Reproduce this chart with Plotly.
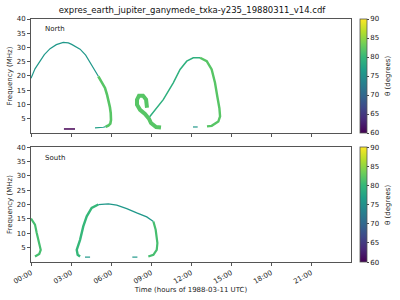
import datetime as dt
import plotly.graph_objects as go
from plotly.colors import sample_colorscale

# ---------------- data (hours of 1988-03-11, frequency MHz, theta deg) -------------
# North hemisphere
n_arc_t = [0.0, 0.3, 0.68, 1.0, 1.43, 1.9, 2.42, 2.8, 3.05, 3.4, 3.68, 4.1, 4.43, 4.75, 5.05]
n_arc_f = [19.2, 22.5, 25.2, 27.5, 29.6, 31.0, 31.8, 31.6, 31.1, 30.3, 29.4, 27.3, 24.7, 22.3, 19.9]
n_arc_theta = 76

n_leg_t = [5.05, 5.35, 5.55, 5.7, 5.8, 5.92, 5.98, 6.0, 5.95, 5.8, 5.6]
n_leg_f = [19.9, 17.5, 15.8, 13.5, 11.7, 9.0, 7.0, 4.6, 3.3, 2.6, 2.2]
n_leg_theta = 82

n_low_t = [5.6, 5.43, 4.8]
n_low_f = [2.2, 2.0, 1.8]
n_low_theta = 77

n_dark_t = [2.47, 3.3]
n_dark_f = [1.4, 1.4]
n_dark_theta = 60

n_loop_t = [8.7, 8.63, 8.4, 8.1, 7.95, 7.95, 8.18, 8.55, 8.85, 9.0, 9.38, 9.75]
n_loop_f = [8.85, 11.7, 13.1, 13.1, 11.7, 9.9, 8.1, 6.7, 5.0, 3.5, 2.1, 1.9]
n_loop_theta = 82

n_rise_t = [8.9, 9.3, 9.92, 10.67, 11.18, 11.68, 12.17, 12.68]
n_rise_f = [5.7, 8.1, 11.7, 17.6, 22.3, 25.2, 26.4, 26.4]
n_rise_theta = 79

n_fall_t = [12.68, 13.18, 13.55, 13.8, 13.97, 14.13, 14.18, 14.05, 13.55, 13.2]
n_fall_f = [26.4, 25.2, 22.3, 17.6, 12.9, 8.7, 5.8, 4.0, 2.5, 2.3]
n_fall_theta = 82

n_bit_t = [12.15, 12.5]
n_bit_f = [2.1, 2.1]
n_bit_theta = 76

# South hemisphere
s_a_t = [0.0, 0.3, 0.43, 0.62, 0.73, 0.62, 0.3]
s_a_f = [15.1, 13.0, 10.1, 6.6, 4.2, 2.8, 1.9]
s_a_theta = 81

s_left_t = [3.68, 3.5, 3.43, 3.68, 3.92, 4.18, 4.55, 5.05]
s_left_f = [1.9, 2.5, 4.2, 7.7, 12.4, 15.9, 18.8, 20.0]
s_left_theta = 80

s_top_t = [5.05, 5.8, 6.43, 7.18, 7.93, 8.68, 9.18]
s_top_f = [20.0, 20.2, 19.8, 18.6, 17.1, 15.7, 14.1]
s_top_theta = 76

s_right_t = [9.18, 9.35, 9.48, 9.43, 9.18, 8.8]
s_right_f = [14.1, 11.2, 6.6, 4.2, 2.5, 1.9]
s_right_theta = 81

s_bit1_t = [4.05, 4.43]
s_bit1_f = [1.7, 1.7]
s_bit2_t = [7.6, 7.98]
s_bit2_f = [1.7, 1.7]
s_bit_theta = 76

x_ticks_h = [0, 3, 6, 9, 12, 15, 18, 21]
y_ticks = [5, 10, 15, 20, 25, 30, 35, 40]
cbar_ticks = [60, 65, 70, 75, 80, 85, 90]
theta_min, theta_max = 60, 90

# ---------------- figure -------------
base = dt.datetime(1988, 3, 11)


def to_time(hours):
    return [base + dt.timedelta(hours=h) for h in hours]


def col(theta):
    return sample_colorscale("Viridis", [(theta - theta_min) / (theta_max - theta_min)])[0]


fig = go.Figure()

north = [
    (n_arc_t, n_arc_f, n_arc_theta, 1.2),
    (n_leg_t, n_leg_f, n_leg_theta, 2.6),
    (n_low_t, n_low_f, n_low_theta, 1.2),
    (n_dark_t, n_dark_f, n_dark_theta, 1.5),
    (n_loop_t, n_loop_f, n_loop_theta, 4.0),
    (n_rise_t, n_rise_f, n_rise_theta, 1.5),
    (n_fall_t, n_fall_f, n_fall_theta, 2.4),
    (n_bit_t, n_bit_f, n_bit_theta, 1.2),
]
south = [
    (s_a_t, s_a_f, s_a_theta, 2.2),
    (s_left_t, s_left_f, s_left_theta, 2.4),
    (s_top_t, s_top_f, s_top_theta, 1.3),
    (s_right_t, s_right_f, s_right_theta, 2.2),
    (s_bit1_t, s_bit1_f, s_bit_theta, 1.2),
    (s_bit2_t, s_bit2_f, s_bit_theta, 1.2),
]

for tt, ff, th, w in north:
    fig.add_trace(go.Scatter(x=to_time(tt), y=ff, mode="lines", xaxis="x", yaxis="y",
                             line=dict(color=col(th), width=w), showlegend=False, hoverinfo="skip"))
for tt, ff, th, w in south:
    fig.add_trace(go.Scatter(x=to_time(tt), y=ff, mode="lines", xaxis="x2", yaxis="y2",
                             line=dict(color=col(th), width=w), showlegend=False, hoverinfo="skip"))

# dummy traces carrying the colour scales
fig.add_trace(go.Scatter(x=to_time([1, 2]), y=[-10, -10], mode="markers", xaxis="x", yaxis="y",
                         marker=dict(color=[theta_min, theta_max], coloraxis="coloraxis", opacity=0),
                         showlegend=False, hoverinfo="skip"))
fig.add_trace(go.Scatter(x=to_time([1, 2]), y=[-10, -10], mode="markers", xaxis="x2", yaxis="y2",
                         marker=dict(color=[theta_min, theta_max], coloraxis="coloraxis2", opacity=0),
                         showlegend=False, hoverinfo="skip"))

font = dict(family="DejaVu Sans", size=7, color="#222")
xr = [base, base + dt.timedelta(hours=24)]
tickvals = to_time(x_ticks_h)

axis_common = dict(showline=True, mirror=True, linecolor="#555", linewidth=1, ticks="outside",
                   ticklen=3, tickcolor="#555", showgrid=False, zeroline=False, tickfont=font,
                   automargin=False)

fig_h = 300


def cb(ytop, ylen):
    return dict(thickness=7, x=1.028, xanchor="left", xpad=0, ypad=0, y=ytop, yanchor="top", len=ylen,
                lenmode="fraction", tickvals=cbar_ticks, ticks="outside", ticklen=2, tickfont=font,
                outlinewidth=0.8, outlinecolor="#555")


fig.update_layout(
    width=400, height=300,
    margin=dict(l=31, r=49, t=19, b=38, autoexpand=False),
    paper_bgcolor="white", plot_bgcolor="white",
    font=font,
    title=dict(text="expres_earth_jupiter_ganymede_txka-y235_19880311_v14.cdf",
               x=0.48, xanchor="center", y=0.968, yanchor="middle",
               font=dict(family="DejaVu Sans", size=8.5, color="#111")),
    xaxis=dict(axis_common, domain=[0, 1], anchor="y", type="date", range=xr, tickvals=tickvals,
               showticklabels=False),
    yaxis=dict(axis_common, domain=[0.531, 1], anchor="x", range=[0, 40], tickvals=y_ticks,
               title=dict(text="Frequency (MHz)", font=font, standoff=3)),
    xaxis2=dict(axis_common, domain=[0, 1], anchor="y2", type="date", range=xr, tickvals=tickvals,
                tickformat="%H:%M", tickangle=-30,
                title=dict(text="Time (hours of 1988-03-11 UTC)", font=font, standoff=2)),
    yaxis2=dict(axis_common, domain=[0, 0.473], anchor="x2", range=[0, 40], tickvals=y_ticks,
                title=dict(text="Frequency (MHz)", font=font, standoff=3)),
    coloraxis=dict(colorscale="Viridis", cmin=theta_min, cmax=theta_max, colorbar=cb(1.0, 0.469)),
    coloraxis2=dict(colorscale="Viridis", cmin=theta_min, cmax=theta_max, colorbar=cb(0.473, 0.473)),
)

fig.add_annotation(text="North", xref="x domain", yref="y domain", x=0.038, y=0.91,
                   xanchor="left", yanchor="middle", showarrow=False, font=font)
fig.add_annotation(text="South", xref="x2 domain", yref="y2 domain", x=0.038, y=0.905,
                   xanchor="left", yanchor="middle", showarrow=False, font=font)
for yc in [76, 205]:
    fig.add_annotation(text="θ (degrees)", xref="paper", yref="paper",
                       x=(388 - 31) / 320, y=(fig_h - 38 - yc) / 243, xanchor="center", yanchor="middle",
                       textangle=-90, showarrow=False, font=font)

fig.write_html("out.html")
